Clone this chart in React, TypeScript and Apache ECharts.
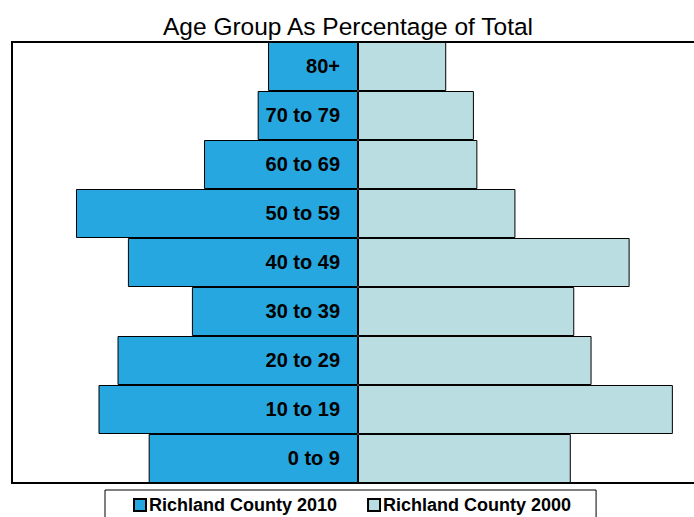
import React, { useEffect, useRef } from "react";
import * as echarts from "echarts";

const categories = ["0 to 9", "10 to 19", "20 to 29", "30 to 39", "40 to 49", "50 to 59", "60 to 69", "70 to 79", "80+"];
const values2010 = [12.1, 15.0, 13.9, 9.6, 13.3, 16.3, 8.9, 5.8, 5.2];
const values2000 = [12.3, 18.2, 13.5, 12.5, 15.7, 9.1, 6.9, 6.7, 5.1];
const seriesNames = ["Richland County 2010", "Richland County 2000"];

const FONT = "'Liberation Sans', Arial, sans-serif";

export default function App() {
  const ref = useRef<HTMLDivElement>(null);
  useEffect(() => {
    if (!ref.current) return;
    const chart = echarts.init(ref.current, undefined, { renderer: "svg" });
    chart.setOption({
      animation: false,
      title: {
        text: "Age Group As Percentage of Total",
        left: 343,
        textAlign: "center",
        top: 9,
        textStyle: {
          fontFamily: FONT,
          fontSize: 24.5,
          fontWeight: "normal",
          color: "#000",
          textShadowColor: "rgba(0,0,0,0.35)",
          textShadowOffsetX: 1,
          textShadowOffsetY: 1,
        },
      },
      legend: {
        top: 490,
        left: 105,
        padding: [6, 25, 12, 28],
        borderColor: "#000",
        borderWidth: 1,
        itemWidth: 12,
        itemHeight: 12,
        itemGap: 30,
        icon: "rect",
        textStyle: { fontFamily: FONT, fontSize: 18, fontWeight: "bold", color: "#000", padding: [0, 0, 0, -2] },
        data: seriesNames,
      },
      grid: {
        left: 12,
        top: 42,
        width: 692,
        height: 441,
        show: true,
        borderColor: "#000",
        borderWidth: 2,
        containLabel: false,
      },
      xAxis: {
        type: "value",
        min: -20,
        max: 20,
        show: false,
      },
      yAxis: {
        type: "category",
        data: categories,
        axisLine: { show: false },
        axisTick: { show: false },
        axisLabel: { show: false },
        splitLine: { show: false },
      },
      series: [
        {
          name: seriesNames[0],
          type: "bar",
          data: values2010.map((v) => -v),
          barGap: "-100%",
          barCategoryGap: 0,
          itemStyle: { color: "#27A7DF", borderColor: "#000", borderWidth: 1 },
          label: {
            show: true,
            position: "insideRight",
            distance: 18,
            offset: [0, -1],
            formatter: "{b}",
            fontFamily: FONT,
            fontSize: 20,
            fontWeight: "bold",
            color: "#000",
          },
        },
        {
          name: seriesNames[1],
          type: "bar",
          data: values2000,
          barGap: "-100%",
          barCategoryGap: 0,
          itemStyle: { color: "#B9DDE1", borderColor: "#000", borderWidth: 1 },
        },
      ],
    });
    return () => chart.dispose();
  }, []);
  return (
    <div style={{ position: "absolute", left: 0, top: 0, width: 694, height: 517, overflow: "hidden", background: "#fff" }}>
      <div ref={ref} style={{ width: 730, height: 517 }} />
    </div>
  );
}
